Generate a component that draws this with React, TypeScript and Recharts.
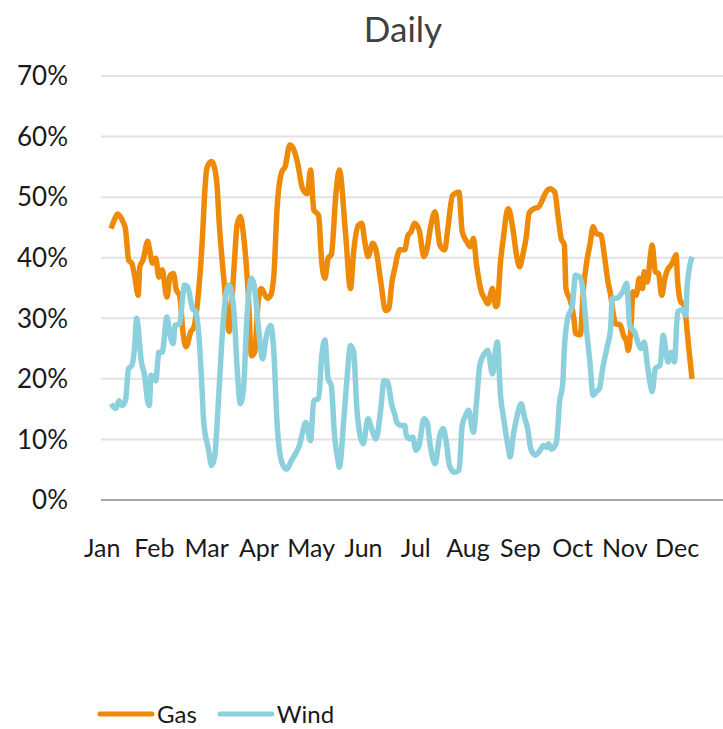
import { LineChart, Line, XAxis, YAxis, CartesianGrid } from 'recharts';

const months = ['Jan', 'Feb', 'Mar', 'Apr', 'May', 'Jun', 'Jul', 'Aug', 'Sep', 'Oct', 'Nov', 'Dec'];
const yTicks = [0, 10, 20, 30, 40, 50, 60, 70];

// day of year, share in %
const gasDays = [
    0, 3, 4, 7, 9, 10, 11, 13, 15, 17, 18, 20, 23, 24, 26, 28, 30, 32, 35, 37, 39, 41, 43, 45, 47, 50, 52, 54, 57, 59,
    60, 63, 66, 68, 71, 74, 77, 79, 81, 83, 86, 88, 90, 92, 94, 98, 100, 102, 104, 107, 109, 112, 114, 117, 120, 123,
    125, 127, 130, 132, 134, 136, 138, 141, 143, 147, 150, 152, 155, 157, 159, 161, 164, 166, 169, 172, 174, 176, 178,
    179, 181, 184, 186, 188, 190, 193, 196, 198, 200, 203, 206, 209, 211, 214, 218, 220, 223, 225, 227, 229, 232, 234,
    236, 239, 241, 242, 244, 246, 248, 249, 252, 254, 256, 258, 260, 262, 265, 268, 270, 272, 275, 278, 280, 282, 284,
    285, 288, 290, 291, 294, 296, 298, 300, 302, 304, 307, 309, 311, 313, 315, 316, 319, 321, 323, 324, 326, 327, 329,
    331, 333, 334, 336, 338, 339, 341, 343, 345, 347, 349, 350, 352, 354, 355, 357, 359, 361, 362, 364,
];
const gasValues = [
    44.8, 46.8, 47.2, 46.2, 44.8, 42.1, 39.6, 39.1, 36.6, 33.8, 38.5, 39.6, 42.7, 41.5, 39.1, 39.9, 36.8, 38.0, 33.5, 37.1,
    37.4, 34.6, 33.8, 27.8, 25.3, 27.8, 28.6, 32.2, 42.1, 52.0, 54.8, 55.9, 53.1, 44.8, 35.5, 27.8, 38.2, 45.4, 46.8, 43.7,
    33.8, 23.8, 24.4, 32.2, 34.9, 33.3, 33.8, 37.1, 48.1, 54.2, 55.0, 58.6, 58.1, 55.5, 51.4, 50.6, 54.5, 47.9, 47.0, 39.3,
    36.6, 39.9, 40.5, 50.9, 54.5, 43.7, 34.9, 41.0, 45.4, 45.7, 42.6, 40.2, 42.4, 41.3, 36.0, 31.3, 31.6, 36.0, 38.5, 39.9,
    41.3, 41.3, 43.7, 44.3, 45.7, 44.6, 40.2, 41.5, 44.8, 47.6, 42.1, 41.3, 44.8, 50.3, 50.8, 44.3, 42.6, 41.8, 43.2, 38.8,
    34.4, 33.3, 32.4, 34.9, 31.9, 32.2, 39.3, 43.7, 47.6, 48.1, 44.3, 40.5, 38.5, 40.5, 43.2, 47.4, 48.1, 48.4, 49.4, 50.6,
    51.4, 50.8, 47.0, 43.2, 42.1, 34.9, 32.7, 29.9, 27.5, 27.3, 35.0, 39.3, 42.1, 45.1, 44.0, 43.7, 40.5, 36.6, 33.8, 30.2,
    29.1, 28.9, 27.2, 26.1, 24.7, 29.7, 34.4, 33.8, 36.6, 34.9, 37.7, 36.0, 40.5, 42.1, 37.7, 37.4, 33.8, 36.6, 38.2, 38.5,
    39.3, 40.5, 36.0, 32.7, 32.2, 27.8, 25.0, 20.0,
];

const windDays = [
    0, 3, 5, 7, 9, 11, 13, 15, 16, 19, 21, 23, 24, 25, 28, 30, 32, 35, 37, 39, 40, 43, 45, 46, 48, 51, 53, 55, 57, 58,
    61, 63, 65, 67, 69, 71, 74, 77, 79, 81, 83, 85, 88, 90, 92, 95, 97, 100, 102, 104, 107, 110, 113, 115, 118, 120, 122,
    125, 127, 130, 132, 134, 136, 138, 140, 142, 143, 146, 148, 150, 152, 154, 156, 158, 161, 163, 166, 169, 171, 173,
    176, 178, 179, 182, 184, 185, 187, 189, 191, 193, 196, 198, 200, 203, 206, 208, 210, 212, 215, 218, 220, 222, 224,
    227, 229, 231, 234, 236, 239, 241, 242, 244, 246, 249, 250, 252, 254, 257, 259, 261, 263, 266, 268, 271, 273, 274,
    276, 279, 281, 283, 284, 286, 289, 291, 294, 296, 298, 300, 302, 304, 306, 308, 311, 313, 314, 317, 319, 321, 323,
    325, 326, 328, 330, 332, 334, 336, 338, 339, 341, 344, 346, 348, 349, 351, 353, 355, 358, 360, 361, 364,
];
const windValues = [
    15.9, 15.1, 16.4, 15.6, 16.4, 21.7, 22.2, 26.1, 30.0, 22.8, 20.6, 16.2, 15.6, 20.6, 19.7, 24.4, 24.4, 30.2, 27.2, 25.8,
    28.8, 29.1, 33.8, 35.5, 35.2, 31.6, 31.1, 27.2, 18.3, 13.0, 8.4, 5.7, 7.3, 15.1, 24.4, 31.6, 35.5, 31.1, 21.7, 15.9,
    18.4, 29.4, 36.6, 34.9, 29.4, 23.3, 26.6, 28.8, 24.4, 12.8, 6.2, 5.1, 6.5, 7.4, 9.0, 11.2, 12.8, 9.8, 16.4, 16.7,
    23.8, 26.4, 20.0, 18.9, 10.7, 6.8, 5.4, 13.9, 20.6, 25.5, 24.4, 15.1, 10.7, 9.3, 13.4, 12.0, 10.1, 15.1, 19.7, 19.6,
    15.6, 13.9, 12.8, 12.3, 12.3, 10.7, 10.1, 10.4, 8.2, 9.0, 13.4, 12.8, 9.0, 6.0, 10.7, 11.8, 9.6, 5.7, 4.6, 4.9,
    12.3, 13.9, 14.8, 11.2, 16.2, 22.2, 24.2, 24.7, 20.8, 25.0, 26.1, 17.3, 13.4, 8.4, 7.1, 10.7, 13.4, 15.9, 13.7, 11.8,
    8.4, 7.4, 7.9, 9.0, 8.7, 9.3, 8.4, 9.5, 16.2, 19.2, 25.0, 29.9, 32.1, 37.1, 36.7, 33.8, 27.8, 22.8, 17.3, 17.9,
    18.4, 21.7, 25.5, 28.3, 33.3, 33.3, 33.8, 34.6, 35.8, 28.8, 28.3, 27.8, 26.1, 25.0, 26.1, 22.3, 18.9, 17.9, 21.7, 22.3,
    27.2, 23.8, 22.8, 24.4, 22.8, 31.1, 31.4, 30.5, 35.5, 40.2,
];

const gasData = gasDays.map((day, i) => ({ day, value: gasValues[i] }));
const windData = windDays.map((day, i) => ({ day, value: windValues[i] }));

// month labels sit evenly across the axis, like the source's category labels
const monthTicks = months.map((_, i) => -5.6 + i * 32.75);

const GAS = '#EE8A07';
const WIND = '#8DD0DD';
const FONT = 'Lato, "Open Sans", sans-serif';

export default function App() {
    return (
        <div style={{ position: 'absolute', left: 0, top: 0, width: 723, height: 729, background: '#fff', fontFamily: FONT, overflow: 'hidden' }}>
            <div style={{ position: 'absolute', left: 303, top: 11, width: 200, textAlign: 'center', fontSize: 35, lineHeight: 1, color: '#404040' }}>
                Daily
            </div>
            <LineChart width={723} height={729} margin={{ top: 76, right: 0, bottom: 169, left: 0 }}>
                <CartesianGrid vertical={false} stroke="#E2E2E2" strokeWidth={2} />
                <XAxis
                    dataKey="day"
                    type="number"
                    domain={[-6.3, 383.4]}
                    allowDataOverflow
                    ticks={monthTicks}
                    interval={0}
                    tickFormatter={(v, i) => months[i]}
                    tickLine={false}
                    tickSize={0}
                    tickMargin={39}
                    height={60}
                    axisLine={{ stroke: '#A6A6A6', strokeWidth: 2 }}
                    tick={{ fill: '#1a1a1a', fontSize: 25, fontFamily: FONT }}
                />
                <YAxis
                    type="number"
                    domain={[0, 70]}
                    ticks={yTicks}
                    width={101}
                    tickLine={false}
                    axisLine={false}
                    tickSize={0}
                    tickMargin={33}
                    tickFormatter={(v) => `${v}%`}
                    tick={{ fill: '#1a1a1a', fontSize: 26, fontFamily: FONT }}
                />
                <Line data={gasData} dataKey="value" name="Gas" type="monotone" stroke={GAS} strokeWidth={5.5} dot={false} isAnimationActive={false} />
                <Line data={windData} dataKey="value" name="Wind" type="monotone" stroke={WIND} strokeWidth={5.5} dot={false} isAnimationActive={false} />
            </LineChart>
            <div style={{ position: 'absolute', left: 97, top: 701, display: 'flex', alignItems: 'center', fontSize: 24, lineHeight: 1.1, color: '#1a1a1a' }}>
                <svg width={58} height={8}><line x1={3} y1={4} x2={55} y2={4} stroke={GAS} strokeWidth={5} strokeLinecap="round" /></svg>
                <span style={{ marginLeft: 2 }}>Gas</span>
                <svg width={58} height={8} style={{ marginLeft: 20 }}><line x1={3} y1={4} x2={55} y2={4} stroke={WIND} strokeWidth={5} strokeLinecap="round" /></svg>
                <span style={{ marginLeft: 2 }}>Wind</span>
            </div>
        </div>
    );
}
